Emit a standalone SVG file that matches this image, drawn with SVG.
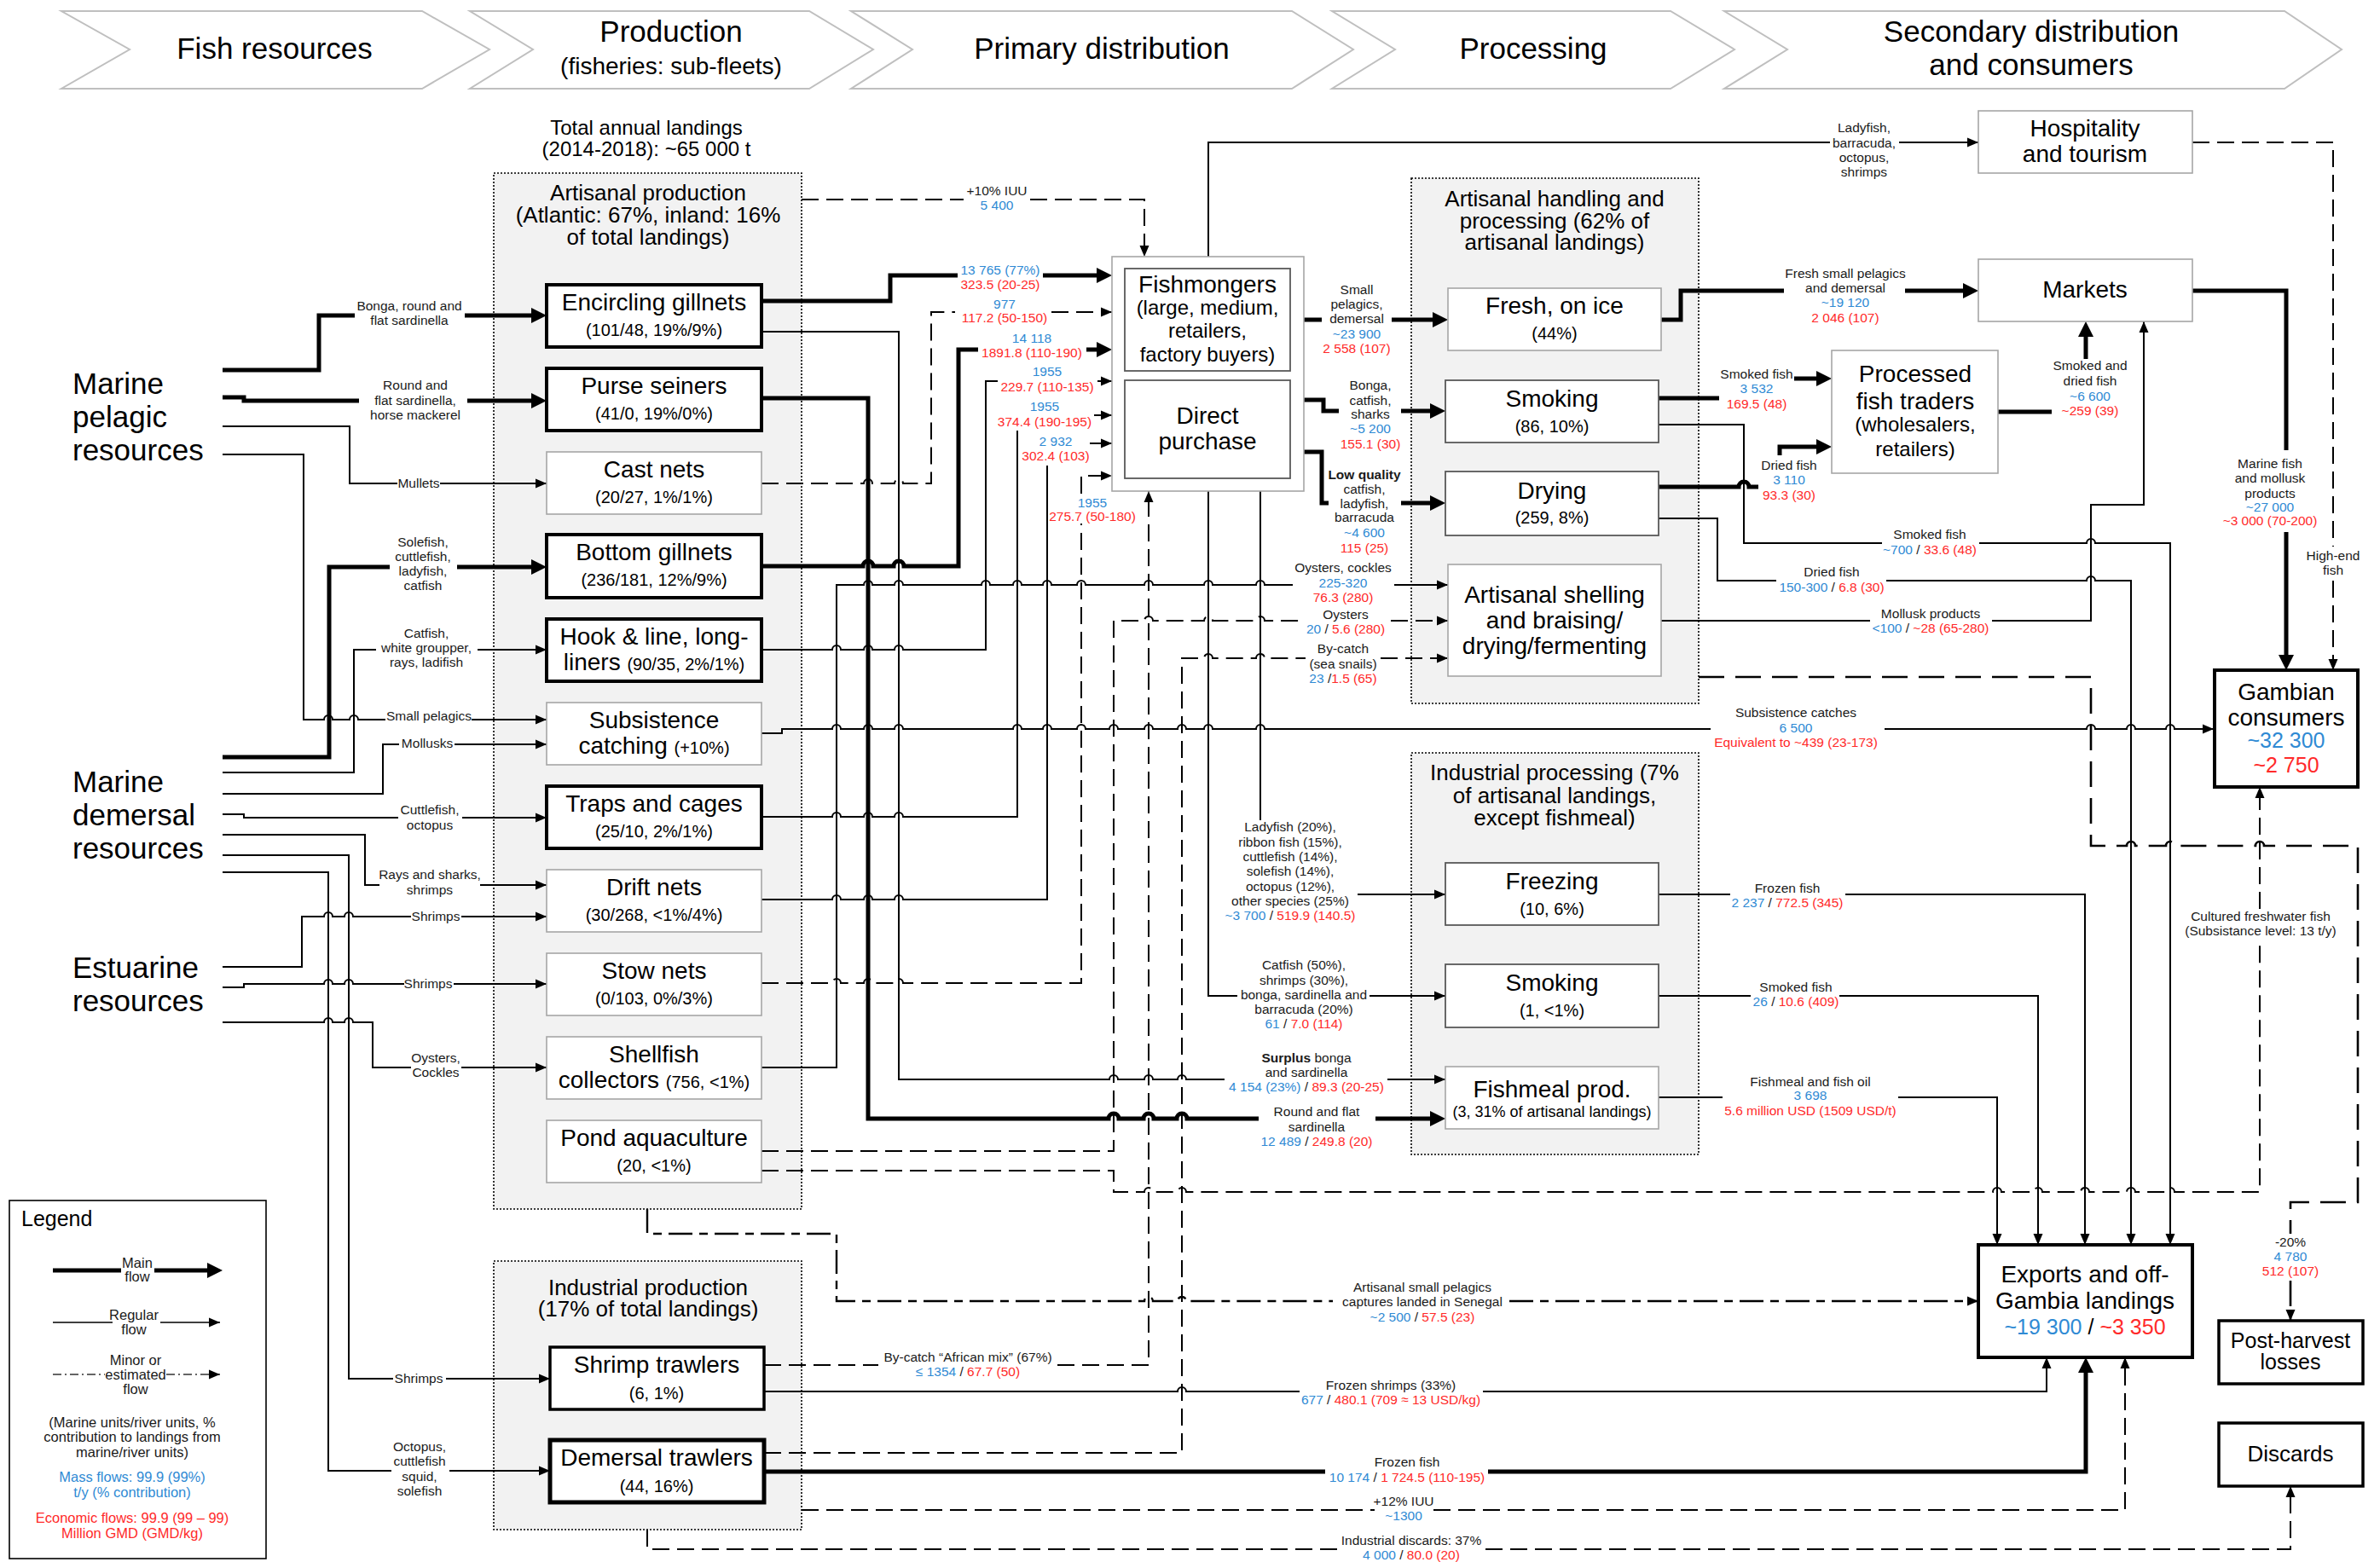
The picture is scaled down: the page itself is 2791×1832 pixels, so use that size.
<svg xmlns="http://www.w3.org/2000/svg" width="2791" height="1832" viewBox="0 0 2791 1832">
<defs>
<style>
text{font-family:"Liberation Sans",Arial,sans-serif;fill:#1a1a1a}
.hd{font-size:35px;text-anchor:middle;fill:#000}
.hs{font-size:28px;text-anchor:middle;fill:#000}
.src{font-size:35px;fill:#000}
.gt{font-size:26px;text-anchor:middle;fill:#000}
.tl{font-size:24px;text-anchor:middle;fill:#000}
.nm{font-size:28px;text-anchor:middle;fill:#000}
.nf{font-size:24px}
.ns{font-size:20px}
.nx{font-size:18px}
.big{font-size:25px}
.lb{font-size:15.5px;text-anchor:middle}
.lg{font-size:16.5px;text-anchor:middle}
.b{fill:#2f8ad4}
.r{fill:#ff2a2a}
.bo{font-weight:bold}
.chev{fill:#fff;stroke:#bfbfbf;stroke-width:2}
.grp{fill:#f2f2f2;stroke:#000;stroke-width:1.6;stroke-dasharray:2 2}
.nk{fill:#fff;stroke:#000;stroke-width:4}
.nl{fill:#fff;stroke:#a6a6a6;stroke-width:1.6}
.nd{fill:#fff;stroke:#595959;stroke-width:1.8}
.m{fill:none;stroke:#000;stroke-width:5;marker-end:url(#aL)}
.t{fill:none;stroke:#000;stroke-width:2;marker-end:url(#aS)}
.d{fill:none;stroke:#000;stroke-width:2;stroke-dasharray:20 9;marker-end:url(#aS)}
.dl{fill:none;stroke:#000;stroke-width:2.6;stroke-dasharray:30 13;marker-end:url(#aS)}
.ds{fill:none;stroke:#000;stroke-width:2.4;stroke-dasharray:28 8 10 8;marker-end:url(#aS)}
.dd{fill:none;stroke:#333;stroke-width:1.3;stroke-dasharray:10 4 2 4;marker-end:url(#aS)}
</style>
<marker id="aL" viewBox="0 0 20 20" markerUnits="userSpaceOnUse" markerWidth="20" markerHeight="20" refX="10" refY="10" orient="auto"><path d="M0,1 L18,10 L0,19 z" fill="#000"/></marker>
<marker id="aS" viewBox="0 0 14 12" markerUnits="userSpaceOnUse" markerWidth="14" markerHeight="12" refX="13" refY="6" orient="auto"><path d="M0,0.5 L13,6 L0,11.5 z" fill="#000"/></marker>
</defs>
<rect width="2791" height="1832" fill="#fff"/>

<!-- value chain stages -->
<g id="stages">
<polygon class="chev" points="72,13 495,13 574,58 495,104 72,104 152,58"/>
<polygon class="chev" points="551,13 949,13 1024,58 949,104 551,104 625,58"/>
<polygon class="chev" points="998,13 1515,13 1587,58 1515,104 998,104 1070,58"/>
<polygon class="chev" points="1562,13 1959,13 2034,58 1959,104 1562,104 1636,58"/>
<polygon class="chev" points="2022,13 2679,13 2746,58 2679,104 2022,104 2096,58"/>
<text class="hd" x="322" y="69">Fish resources</text>
<text class="hd" x="787" y="49">Production</text>
<text class="hs" x="787" y="87">(fisheries: sub-fleets)</text>
<text class="hd" x="1292" y="69">Primary distribution</text>
<text class="hd" x="1798" y="69">Processing</text>
<text class="hd" x="2382" y="49">Secondary distribution</text>
<text class="hd" x="2382" y="88">and consumers</text>
</g>

<!-- grouping frames -->
<g id="grp-artisanal">
<rect class="grp" x="579" y="203" width="361" height="1215"/>
<text class="gt" x="760" y="235">Artisanal production</text>
<text class="gt" x="760" y="261">(Atlantic: 67%, inland: 16%</text>
<text class="gt" x="760" y="287">of total landings)</text>
</g>
<g id="grp-industrial">
<rect class="grp" x="579" y="1479" width="361" height="315"/>
<text class="gt" x="760" y="1519">Industrial production</text>
<text class="gt" x="760" y="1544">(17% of total landings)</text>
</g>
<g id="grp-art-processing">
<rect class="grp" x="1655" y="209" width="337" height="616"/>
<text class="gt" x="1823" y="242">Artisanal handling and</text>
<text class="gt" x="1823" y="268">processing (62% of</text>
<text class="gt" x="1823" y="293">artisanal landings)</text>
</g>
<g id="grp-ind-processing">
<rect class="grp" x="1655" y="883" width="337" height="471"/>
<text class="gt" x="1823" y="915">Industrial processing (7%</text>
<text class="gt" x="1823" y="942">of artisanal landings,</text>
<text class="gt" x="1823" y="968">except fishmeal)</text>
</g>
<text class="tl" x="758" y="158">Total annual landings</text>
<text class="tl" x="758" y="183">(2014-2018): ~65 000 t</text>

<!-- connectors -->
<g id="connectors">
<!-- resources to sub-fleets -->
<path class="m" d="M261,434H374V370H416M545,370H633"/>
<path class="m" d="M261,466H286V470H421M548,470H633"/>
<path class="t" d="M261,500H410V567H466M516,567H641"/>
<path class="t" d="M261,533H356V844H380a5,5 0 0 1 10,0H410a5,5 0 0 1 10,0H452M553,844H641"/>
<path class="m" d="M261,888H386V665H457M536,665H633"/>
<path class="t" d="M261,906H415V762H441M560,762H641"/>
<path class="t" d="M261,931H449V873H468M533,873H641"/>
<path class="t" d="M261,955H286V959H467M542,959H641"/>
<path class="t" d="M261,979H428V1038H445M563,1038H641"/>
<path class="t" d="M261,1003H409V1617H461M523,1617H645"/>
<path class="t" d="M261,1023H385V1725H459M527,1725H645"/>
<path class="t" d="M261,1134H354V1075H380a5,5 0 0 1 10,0H404a5,5 0 0 1 10,0H482M541,1075H641"/>
<path class="t" d="M261,1158H286V1154H380a5,5 0 0 1 10,0H404a5,5 0 0 1 10,0H474M532,1154H641"/>
<path class="t" d="M261,1199H380a5,5 0 0 1 10,0H404a5,5 0 0 1 10,0H437V1252H482M541,1252H641"/>

<!-- sub-fleets to primary distribution -->
<path class="d" d="M940,234H1130M1208,234H1342V301"/>
<path class="m" d="M893,353H1044V323H1123M1223,323H1296"/>
<path class="d" d="M893,567H1013a5,5 0 0 1 10,0H1049a5,5 0 0 1 10,0H1092V366H1120M1233,366H1304"/>
<path class="m" d="M893,664H1012a6,6 0 0 1 12,0H1048a6,6 0 0 1 12,0H1124V410H1147M1274,410H1296"/>
<path class="t" d="M893,762H976a5,5 0 0 1 10,0H1013a5,5 0 0 1 10,0H1049a5,5 0 0 1 10,0H1156V447H1170M1287,447H1304"/>
<path class="t" d="M893,958H976a5,5 0 0 1 10,0H1013a5,5 0 0 1 10,0H1049a5,5 0 0 1 10,0H1193V505M1283,487H1304"/>
<path class="t" d="M893,1055H976a5,5 0 0 1 10,0H1013a5,5 0 0 1 10,0H1049a5,5 0 0 1 10,0H1228V546M1278,520H1304"/>
<path class="d" d="M893,1153H976a5,5 0 0 1 10,0H1013a5,5 0 0 1 10,0H1049a5,5 0 0 1 10,0H1268V614M1268,579V558H1304"/>
<path class="d" d="M896,1601H1030M1240,1601H1347V576"/>

<!-- sub-fleets direct to processing and consumers -->
<path class="t" d="M893,389H1054V1266H1301a5,5 0 0 1 10,0H1342a5,5 0 0 1 10,0H1381a5,5 0 0 1 10,0H1436M1627,1266H1695"/>
<path class="m" d="M893,467H1018V1312H1300a6,6 0 0 1 12,0H1341a6,6 0 0 1 12,0H1380a6,6 0 0 1 12,0H1476M1613,1312H1687"/>
<path class="t" d="M893,860H917V855H976a5,5 0 0 1 10,0H1013a5,5 0 0 1 10,0H1049a5,5 0 0 1 10,0H1188a5,5 0 0 1 10,0H1223a5,5 0 0 1 10,0H1263a5,5 0 0 1 10,0H1301a5,5 0 0 1 10,0H1342a5,5 0 0 1 10,0H1381a5,5 0 0 1 10,0H1412a5,5 0 0 1 10,0H1473a5,5 0 0 1 10,0H2006M2210,855H2447a5,5 0 0 1 10,0H2494a5,5 0 0 1 10,0H2540a5,5 0 0 1 10,0H2596"/>
<path class="t" d="M893,1252H981V686H1013a5,5 0 0 1 10,0H1049a5,5 0 0 1 10,0H1151a5,5 0 0 1 10,0H1188a5,5 0 0 1 10,0H1223a5,5 0 0 1 10,0H1263a5,5 0 0 1 10,0H1342a5,5 0 0 1 10,0H1412a5,5 0 0 1 10,0H1473a5,5 0 0 1 10,0H1516M1635,686H1698"/>
<path class="d" d="M893,1350H1306V728H1342a5,5 0 0 1 10,0H1412a5,5 0 0 1 10,0H1473a5,5 0 0 1 10,0H1529M1631,728H1698"/>
<path class="d" d="M896,1704H1386V772H1412a5,5 0 0 1 10,0H1473a5,5 0 0 1 10,0H1531M1619,772H1698"/>
<path class="d" d="M893,1373H1306V1398H1342a5,5 0 0 1 10,0H1381a5,5 0 0 1 10,0H2337a5,5 0 0 1 10,0H2385a5,5 0 0 1 10,0H2440a5,5 0 0 1 10,0H2494a5,5 0 0 1 10,0H2540a5,5 0 0 1 10,0H2650V1102M2650,1066V923"/>
<path class="ds" d="M759,1418V1447H981V1526H1342a5,5 0 0 1 10,0H1381a5,5 0 0 1 10,0H1563M1770,1526H2320"/>
<path class="t" d="M896,1632H1381a5,5 0 0 1 10,0H1524M1739,1632H2400V1592"/>
<path class="m" d="M896,1726H1554M1745,1726H2446V1600"/>
<path class="d" d="M940,1771H1612M1681,1771H2492V1592"/>
<path class="d" d="M759,1794V1817H1568M1742,1817H2686V1743"/>

<!-- primary distribution to processing and hospitality -->
<path class="t" d="M1417,301V167H2146M2227,167H2320"/>
<path class="t" d="M1417,576V1168H1451M1606,1168H1695"/>
<path class="t" d="M1478,576V962M1592,1049H1695"/>
<path class="m" d="M1513,375H1550M1632,375H1690"/>
<path class="m" d="M1513,469H1552V482H1570M1643,482H1687"/>
<path class="m" d="M1513,530H1550V590H1558M1643,590H1687"/>

<!-- processing to secondary distribution -->
<path class="m" d="M1948,375H1971V341H2092M2234,341H2312"/>
<path class="m" d="M1945,467H2016M2104,444H2140"/>
<path class="m" d="M1945,571H2039a6,6 0 0 1 12,0H2062M2087,534V524H2140"/>
<path class="t" d="M1945,498H2045V637H2207M2321,637H2447a5,5 0 0 1 10,0H2545V1460"/>
<path class="t" d="M1945,608H2014V681H2083M2212,681H2447a5,5 0 0 1 10,0H2499V1460"/>
<path class="t" d="M1948,728H2193M2336,728H2452V592H2514V377"/>
<path class="dl" d="M1992,794H2452V992H2494a5,5 0 0 1 10,0H2540a5,5 0 0 1 10,0H2645a5,5 0 0 1 10,0H2765V1410H2686V1447M2686,1502V1549"/>
<path class="t" d="M1945,1049H2029M2164,1049H2445V1460"/>
<path class="t" d="M1945,1168H2053M2157,1168H2390V1460"/>
<path class="t" d="M1945,1287H2020M2226,1287H2342V1460"/>
<path class="m" d="M2343,483H2406M2446,421V385"/>
<path class="m" d="M2571,341H2681V528M2681,624V778"/>
<path class="d" d="M2571,167H2736V641M2736,681V786"/>
</g>

<!-- connector labels -->
<g id="labels">
<text class="lb" x="480" y="364">Bonga, round and</text>
<text class="lb" x="480" y="381">flat sardinella</text>
<text class="lb" x="487" y="457">Round and</text>
<text class="lb" x="487" y="475">flat sardinella,</text>
<text class="lb" x="487" y="492">horse mackerel</text>
<text class="lb" x="491" y="572">Mullets</text>
<text class="lb" x="496" y="641">Solefish,</text>
<text class="lb" x="496" y="658">cuttlefish,</text>
<text class="lb" x="496" y="675">ladyfish,</text>
<text class="lb" x="496" y="692">catfish</text>
<text class="lb" x="500" y="748">Catfish,</text>
<text class="lb" x="500" y="765">white groupper,</text>
<text class="lb" x="500" y="782">rays, ladifish</text>
<text class="lb" x="503" y="845">Small pelagics</text>
<text class="lb" x="501" y="877">Mollusks</text>
<text class="lb" x="504" y="955">Cuttlefish,</text>
<text class="lb" x="504" y="973">octopus</text>
<text class="lb" x="504" y="1031">Rays and sharks,</text>
<text class="lb" x="504" y="1049">shrimps</text>
<text class="lb" x="511" y="1080">Shrimps</text>
<text class="lb" x="502" y="1159">Shrimps</text>
<text class="lb" x="511" y="1246">Oysters,</text>
<text class="lb" x="511" y="1263">Cockles</text>
<text class="lb" x="491" y="1622">Shrimps</text>
<text class="lb" x="492" y="1702">Octopus,</text>
<text class="lb" x="492" y="1719">cuttlefish</text>
<text class="lb" x="492" y="1737">squid,</text>
<text class="lb" x="492" y="1754">solefish</text>

<text class="lb" x="1169" y="229">+10% IUU</text>
<text class="lb b" x="1169" y="246">5 400</text>
<text class="lb b" x="1173" y="322">13 765 (77%)</text>
<text class="lb r" x="1173" y="339">323.5 (20-25)</text>
<text class="lb b" x="1178" y="362">977</text>
<text class="lb r" x="1178" y="378">117.2 (50-150)</text>
<text class="lb b" x="1210" y="402">14 118</text>
<text class="lb r" x="1210" y="419">1891.8 (110-190)</text>
<text class="lb b" x="1228" y="441">1955</text>
<text class="lb r" x="1228" y="459">229.7 (110-135)</text>
<text class="lb b" x="1225" y="482">1955</text>
<text class="lb r" x="1225" y="500">374.4 (190-195)</text>
<text class="lb b" x="1238" y="523">2 932</text>
<text class="lb r" x="1238" y="540">302.4 (103)</text>
<text class="lb b" x="1281" y="595">1955</text>
<text class="lb r" x="1281" y="611">275.7 (50-180)</text>
<text class="lb" x="1135" y="1597">By-catch “African mix” (67%)</text>
<text class="lb" x="1135" y="1614"><tspan class="b">≤ 1354</tspan> / <tspan class="r">67.7 (50)</tspan></text>

<text class="lb" x="1591" y="345">Small</text>
<text class="lb" x="1591" y="362">pelagics,</text>
<text class="lb" x="1591" y="379">demersal</text>
<text class="lb b" x="1591" y="397">~23 900</text>
<text class="lb r" x="1591" y="414">2 558 (107)</text>
<text class="lb" x="1607" y="457">Bonga,</text>
<text class="lb" x="1607" y="475">catfish,</text>
<text class="lb" x="1607" y="491">sharks</text>
<text class="lb b" x="1607" y="508">~5 200</text>
<text class="lb r" x="1607" y="526">155.1 (30)</text>
<text class="lb bo" x="1600" y="562">Low quality</text>
<text class="lb" x="1600" y="579">catfish,</text>
<text class="lb" x="1600" y="596">ladyfish,</text>
<text class="lb" x="1600" y="612">barracuda</text>
<text class="lb b" x="1600" y="630">~4 600</text>
<text class="lb r" x="1600" y="648">115 (25)</text>
<text class="lb" x="1575" y="671">Oysters, cockles</text>
<text class="lb b" x="1575" y="689">225-320</text>
<text class="lb r" x="1575" y="706">76.3 (280)</text>
<text class="lb" x="1578" y="726">Oysters</text>
<text class="lb" x="1578" y="743"><tspan class="b">20</tspan> / <tspan class="r">5.6 (280)</tspan></text>
<text class="lb" x="1575" y="766">By-catch</text>
<text class="lb" x="1575" y="784">(sea snails)</text>
<text class="lb" x="1575" y="801"><tspan class="b">23</tspan> /<tspan class="r">1.5 (65)</tspan></text>
<text class="lb" x="1513" y="975">Ladyfish (20%),</text>
<text class="lb" x="1513" y="993">ribbon fish (15%),</text>
<text class="lb" x="1513" y="1010">cuttlefish (14%),</text>
<text class="lb" x="1513" y="1027">solefish (14%),</text>
<text class="lb" x="1513" y="1045">octopus (12%),</text>
<text class="lb" x="1513" y="1062">other species (25%)</text>
<text class="lb" x="1513" y="1079"><tspan class="b">~3 700</tspan> / <tspan class="r">519.9 (140.5)</tspan></text>
<text class="lb" x="1529" y="1137">Catfish (50%),</text>
<text class="lb" x="1529" y="1155">shrimps (30%),</text>
<text class="lb" x="1529" y="1172">bonga, sardinella and</text>
<text class="lb" x="1529" y="1189">barracuda (20%)</text>
<text class="lb" x="1529" y="1206"><tspan class="b">61</tspan> / <tspan class="r">7.0 (114)</tspan></text>
<text class="lb" x="1532" y="1246"><tspan class="bo">Surplus</tspan> bonga</text>
<text class="lb" x="1532" y="1263">and sardinella</text>
<text class="lb" x="1532" y="1280"><tspan class="b">4 154 (23%)</tspan> / <tspan class="r">89.3 (20-25)</tspan></text>
<text class="lb" x="1544" y="1309">Round and flat</text>
<text class="lb" x="1544" y="1327">sardinella</text>
<text class="lb" x="1544" y="1344"><tspan class="b">12 489</tspan> / <tspan class="r">249.8 (20)</tspan></text>

<text class="lb" x="2186" y="155">Ladyfish,</text>
<text class="lb" x="2186" y="173">barracuda,</text>
<text class="lb" x="2186" y="190">octopus,</text>
<text class="lb" x="2186" y="207">shrimps</text>
<text class="lb" x="2164" y="326">Fresh small pelagics</text>
<text class="lb" x="2164" y="343">and demersal</text>
<text class="lb b" x="2164" y="360">~19 120</text>
<text class="lb r" x="2164" y="378">2 046 (107)</text>
<text class="lb" x="2060" y="444">Smoked fish</text>
<text class="lb b" x="2060" y="461">3 532</text>
<text class="lb r" x="2060" y="479">169.5 (48)</text>
<text class="lb" x="2098" y="551">Dried fish</text>
<text class="lb b" x="2098" y="568">3 110</text>
<text class="lb r" x="2098" y="586">93.3 (30)</text>
<text class="lb" x="2451" y="434">Smoked and</text>
<text class="lb" x="2451" y="452">dried fish</text>
<text class="lb b" x="2451" y="470">~6 600</text>
<text class="lb r" x="2451" y="487">~259 (39)</text>
<text class="lb" x="2662" y="549">Marine fish</text>
<text class="lb" x="2662" y="566">and mollusk</text>
<text class="lb" x="2662" y="584">products</text>
<text class="lb b" x="2662" y="600">~27 000</text>
<text class="lb r" x="2662" y="616">~3 000 (70-200)</text>
<text class="lb" x="2263" y="632">Smoked fish</text>
<text class="lb" x="2263" y="650"><tspan class="b">~700</tspan> / <tspan class="r">33.6 (48)</tspan></text>
<text class="lb" x="2148" y="676">Dried fish</text>
<text class="lb" x="2148" y="694"><tspan class="b">150-300</tspan> / <tspan class="r">6.8 (30)</tspan></text>
<text class="lb" x="2264" y="725">Mollusk products</text>
<text class="lb" x="2264" y="742"><tspan class="b">&lt;100</tspan> / <tspan class="r">~28 (65-280)</tspan></text>
<text class="lb" x="2736" y="657">High-end</text>
<text class="lb" x="2736" y="674">fish</text>
<text class="lb" x="2106" y="841">Subsistence catches</text>
<text class="lb b" x="2106" y="859">6 500</text>
<text class="lb r" x="2106" y="876">Equivalent to ~439 (23-173)</text>
<text class="lb" x="2096" y="1047">Frozen fish</text>
<text class="lb" x="2096" y="1064"><tspan class="b">2 237</tspan> / <tspan class="r">772.5 (345)</tspan></text>
<text class="lb" x="2106" y="1163">Smoked fish</text>
<text class="lb" x="2106" y="1180"><tspan class="b">26</tspan> / <tspan class="r">10.6 (409)</tspan></text>
<text class="lb" x="2651" y="1080">Cultured freshwater fish</text>
<text class="lb" x="2651" y="1097">(Subsistance level: 13 t/y)</text>
<text class="lb" x="2123" y="1274">Fishmeal and fish oil</text>
<text class="lb b" x="2123" y="1290">3 698</text>
<text class="lb r" x="2123" y="1308">5.6 million USD (1509 USD/t)</text>
<text class="lb" x="2686" y="1462">-20%</text>
<text class="lb b" x="2686" y="1479">4 780</text>
<text class="lb r" x="2686" y="1496">512 (107)</text>
<text class="lb" x="1668" y="1515">Artisanal small pelagics</text>
<text class="lb" x="1668" y="1532">captures landed in Senegal</text>
<text class="lb" x="1668" y="1550"><tspan class="b">~2 500</tspan> / <tspan class="r">57.5 (23)</tspan></text>
<text class="lb" x="1631" y="1630">Frozen shrimps (33%)</text>
<text class="lb" x="1631" y="1647"><tspan class="b">677</tspan> / <tspan class="r">480.1 (709 ≈ 13 USD/kg)</tspan></text>
<text class="lb" x="1650" y="1720">Frozen fish</text>
<text class="lb" x="1650" y="1738"><tspan class="b">10 174</tspan> / <tspan class="r">1 724.5 (110-195)</tspan></text>
<text class="lb" x="1646" y="1766">+12% IUU</text>
<text class="lb b" x="1646" y="1783">~1300</text>
<text class="lb" x="1655" y="1812">Industrial discards: 37%</text>
<text class="lb" x="1655" y="1829"><tspan class="b">4 000</tspan> / <tspan class="r">80.0 (20)</tspan></text>
</g>

<!-- resources -->
<g id="n-marine-pelagic">
<text class="src" x="85" y="462">Marine</text>
<text class="src" x="85" y="501">pelagic</text>
<text class="src" x="85" y="540">resources</text>
</g>
<g id="n-marine-demersal">
<text class="src" x="85" y="929">Marine</text>
<text class="src" x="85" y="968">demersal</text>
<text class="src" x="85" y="1007">resources</text>
</g>
<g id="n-estuarine">
<text class="src" x="85" y="1147">Estuarine</text>
<text class="src" x="85" y="1186">resources</text>
</g>

<!-- artisanal sub-fleets -->
<g id="n-encircling-gillnets"><rect class="nk" x="641" y="334" width="252" height="73"/><text class="nm" x="767" y="364">Encircling gillnets</text><text class="nm ns" x="767" y="394">(101/48, 19%/9%)</text></g>
<g id="n-purse-seiners"><rect class="nk" x="641" y="432" width="252" height="73"/><text class="nm" x="767" y="462">Purse seiners</text><text class="nm ns" x="767" y="492">(41/0, 19%/0%)</text></g>
<g id="n-cast-nets"><rect class="nl" x="641" y="530" width="252" height="73"/><text class="nm" x="767" y="560">Cast nets</text><text class="nm ns" x="767" y="590">(20/27, 1%/1%)</text></g>
<g id="n-bottom-gillnets"><rect class="nk" x="641" y="627" width="252" height="74"/><text class="nm" x="767" y="657">Bottom gillnets</text><text class="nm ns" x="767" y="687">(236/181, 12%/9%)</text></g>
<g id="n-hook-line"><rect class="nk" x="641" y="726" width="252" height="73"/><text class="nm" x="767" y="756">Hook &amp; line, long-</text><text class="nm" x="767" y="786">liners <tspan class="ns">(90/35, 2%/1%)</tspan></text></g>
<g id="n-subsistence"><rect class="nl" x="641" y="824" width="252" height="73"/><text class="nm" x="767" y="854">Subsistence</text><text class="nm" x="767" y="884">catching <tspan class="ns">(+10%)</tspan></text></g>
<g id="n-traps-cages"><rect class="nk" x="641" y="922" width="252" height="73"/><text class="nm" x="767" y="952">Traps and cages</text><text class="nm ns" x="767" y="982">(25/10, 2%/1%)</text></g>
<g id="n-drift-nets"><rect class="nl" x="641" y="1020" width="252" height="73"/><text class="nm" x="767" y="1050">Drift nets</text><text class="nm ns" x="767" y="1080">(30/268, &lt;1%/4%)</text></g>
<g id="n-stow-nets"><rect class="nl" x="641" y="1118" width="252" height="73"/><text class="nm" x="767" y="1148">Stow nets</text><text class="nm ns" x="767" y="1178">(0/103, 0%/3%)</text></g>
<g id="n-shellfish"><rect class="nl" x="641" y="1216" width="252" height="73"/><text class="nm" x="767" y="1246">Shellfish</text><text class="nm" x="767" y="1276">collectors <tspan class="ns">(756, &lt;1%)</tspan></text></g>
<g id="n-pond"><rect class="nl" x="641" y="1314" width="252" height="73"/><text class="nm" x="767" y="1344">Pond aquaculture</text><text class="nm ns" x="767" y="1374">(20, &lt;1%)</text></g>

<!-- industrial sub-fleets -->
<g id="n-shrimp-trawlers"><rect class="nk" x="645" y="1580" width="251" height="73" style="stroke-width:3.5"/><text class="nm" x="770" y="1610">Shrimp trawlers</text><text class="nm ns" x="770" y="1641">(6, 1%)</text></g>
<g id="n-demersal-trawlers"><rect class="nk" x="645" y="1689" width="251" height="73" style="stroke-width:5"/><text class="nm" x="770" y="1719">Demersal trawlers</text><text class="nm ns" x="770" y="1750">(44, 16%)</text></g>

<!-- primary distribution -->
<g id="n-primary">
<rect class="nl" x="1304" y="301" width="225" height="275"/>
</g>
<g id="n-fishmongers"><rect class="nd" x="1319" y="315" width="194" height="120"/>
<text class="nm" x="1416" y="343">Fishmongers</text>
<text class="nm nf" x="1416" y="369">(large, medium,</text>
<text class="nm nf" x="1416" y="396">retailers,</text>
<text class="nm nf" x="1416" y="424">factory buyers)</text></g>
<g id="n-direct-purchase"><rect class="nd" x="1319" y="446" width="194" height="115"/>
<text class="nm" x="1416" y="497">Direct</text>
<text class="nm" x="1416" y="527">purchase</text></g>

<!-- processing -->
<g id="n-fresh"><rect class="nl" x="1698" y="338" width="250" height="73"/><text class="nm" x="1823" y="368">Fresh, on ice</text><text class="nm ns" x="1823" y="398">(44%)</text></g>
<g id="n-smoking-art"><rect class="nd" x="1695" y="446" width="250" height="73"/><text class="nm" x="1820" y="477">Smoking</text><text class="nm ns" x="1820" y="507">(86, 10%)</text></g>
<g id="n-drying"><rect class="nd" x="1695" y="553" width="250" height="75"/><text class="nm" x="1820" y="585">Drying</text><text class="nm ns" x="1820" y="614">(259, 8%)</text></g>
<g id="n-shelling"><rect class="nl" x="1698" y="662" width="250" height="131"/><text class="nm" x="1823" y="707">Artisanal shelling</text><text class="nm" x="1823" y="737">and braising/</text><text class="nm" x="1823" y="767">drying/fermenting</text></g>
<g id="n-freezing"><rect class="nd" x="1695" y="1012" width="250" height="73"/><text class="nm" x="1820" y="1043">Freezing</text><text class="nm ns" x="1820" y="1073">(10, 6%)</text></g>
<g id="n-smoking-ind"><rect class="nd" x="1695" y="1131" width="250" height="74"/><text class="nm" x="1820" y="1162">Smoking</text><text class="nm ns" x="1820" y="1192">(1, &lt;1%)</text></g>
<g id="n-fishmeal"><rect class="nl" x="1695" y="1251" width="250" height="73"/><text class="nm" x="1820" y="1287">Fishmeal prod.</text><text class="nm nx" x="1820" y="1310">(3, 31% of artisanal landings)</text></g>

<!-- secondary distribution and consumers -->
<g id="n-hospitality"><rect class="nl" x="2320" y="130" width="251" height="73"/><text class="nm" x="2445" y="160">Hospitality</text><text class="nm" x="2445" y="190">and tourism</text></g>
<g id="n-markets"><rect class="nl" x="2320" y="304" width="251" height="73"/><text class="nm" x="2445" y="349">Markets</text></g>
<g id="n-processed-traders"><rect class="nl" x="2148" y="411" width="195" height="144"/>
<text class="nm" x="2246" y="448">Processed</text>
<text class="nm" x="2246" y="480">fish traders</text>
<text class="nm nf" x="2246" y="506">(wholesalers,</text>
<text class="nm nf" x="2246" y="535">retailers)</text></g>
<g id="n-gambian-consumers"><rect class="nk" x="2597" y="786" width="168" height="137"/>
<text class="nm" x="2681" y="821">Gambian</text>
<text class="nm" x="2681" y="851">consumers</text>
<text class="nm big b" x="2681" y="877">~32 300</text>
<text class="nm big r" x="2681" y="906">~2 750</text></g>
<g id="n-exports"><rect class="nk" x="2320" y="1460" width="251" height="132"/>
<text class="nm" x="2445" y="1504">Exports and off-</text>
<text class="nm" x="2445" y="1535">Gambia landings</text>
<text class="nm big" x="2445" y="1565"><tspan class="b">~19 300</tspan> / <tspan class="r">~3 350</tspan></text></g>
<g id="n-post-harvest"><rect class="nk" x="2602" y="1549" width="169" height="74" style="stroke-width:3.5"/>
<text class="nm big" x="2686" y="1581">Post-harvest</text>
<text class="nm big" x="2686" y="1606">losses</text></g>
<g id="n-discards"><rect class="nk" x="2602" y="1669" width="169" height="74" style="stroke-width:3.5"/>
<text class="nm" x="2686" y="1714" style="font-size:26px">Discards</text></g>

<!-- legend -->
<g id="legend">
<rect x="11" y="1408" width="301" height="420" fill="#fff" stroke="#000" stroke-width="1.6"/>
<text x="25" y="1438" style="font-size:25px;fill:#000">Legend</text>
<path class="m" d="M62,1490H142M181,1490H253"/>
<text class="lg" x="161" y="1487">Main</text>
<text class="lg" x="161" y="1503">flow</text>
<path class="t" d="M62,1551H132M188,1551H258" style="stroke-width:1.4"/>
<text class="lg" x="157" y="1548">Regular</text>
<text class="lg" x="157" y="1565">flow</text>
<path class="dd" d="M62,1612H123M195,1612H258"/>
<text class="lg" x="159" y="1601">Minor or</text>
<text class="lg" x="159" y="1618">estimated</text>
<text class="lg" x="159" y="1635">flow</text>
<text class="lg" x="155" y="1674">(Marine units/river units, %</text>
<text class="lg" x="155" y="1691">contribution to landings from</text>
<text class="lg" x="155" y="1709">marine/river units)</text>
<text class="lg b" x="155" y="1738">Mass flows: 99.9 (99%)</text>
<text class="lg b" x="155" y="1756">t/y (% contribution)</text>
<text class="lg r" x="155" y="1786">Economic flows: 99.9 (99 – 99)</text>
<text class="lg r" x="155" y="1804">Million GMD (GMD/kg)</text>
</g>
</svg>
